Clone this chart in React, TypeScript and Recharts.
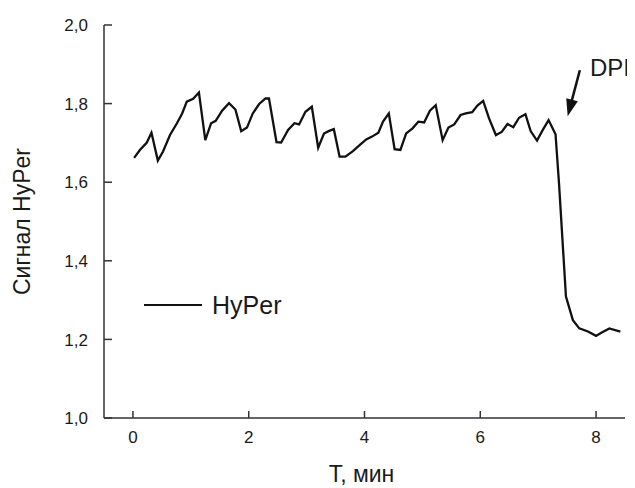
import React from 'react';
import { LineChart, Line, XAxis, YAxis, Legend, ReferenceLine } from 'recharts';

const timeMin = [0.02,0.12,0.24,0.32,0.43,0.52,0.64,0.76,0.85,0.93,1.04,1.14,1.25,1.35,1.43,1.54,1.66,1.77,1.87,1.97,2.07,2.18,2.29,2.35,2.48,2.56,2.68,2.79,2.87,2.98,3.09,3.2,3.3,3.38,3.47,3.57,3.67,3.8,3.93,4.03,4.13,4.24,4.32,4.42,4.52,4.62,4.72,4.83,4.93,5.03,5.13,5.23,5.35,5.45,5.55,5.66,5.75,5.86,5.95,6.05,6.15,6.27,6.37,6.47,6.57,6.67,6.78,6.87,6.98,7.08,7.18,7.3,7.36,7.48,7.6,7.71,7.86,8.0,8.09,8.23,8.42];
const hyper = [1.662,1.682,1.701,1.726,1.655,1.678,1.72,1.75,1.775,1.805,1.812,1.828,1.707,1.75,1.756,1.782,1.801,1.785,1.73,1.739,1.775,1.799,1.813,1.813,1.702,1.701,1.733,1.75,1.747,1.779,1.792,1.688,1.724,1.73,1.735,1.665,1.665,1.679,1.696,1.709,1.716,1.726,1.754,1.775,1.684,1.682,1.724,1.737,1.754,1.752,1.782,1.796,1.707,1.739,1.747,1.771,1.775,1.778,1.795,1.807,1.763,1.72,1.728,1.748,1.74,1.764,1.773,1.73,1.706,1.733,1.758,1.722,1.597,1.309,1.249,1.228,1.22,1.209,1.217,1.228,1.22];
const xTicks = [0, 2, 4, 6, 8];
const yTicks = [1.0, 1.2, 1.4, 1.6, 1.8, 2.0];
const arrowFrom = { x: 7.72, y: 1.885 };
const arrowTo = { x: 7.51, y: 1.768 };
const arrowLabel = 'DPI';
const seriesName = 'HyPer';
const xTitle = 'T, мин';
const yTitle = 'Сигнал HyPer';

const data = timeMin.map((t, i) => ({ t, v: hyper[i] }));

const FONT = '"Liberation Sans", Arial, sans-serif';
const AXIS = '#333';
const TXT = '#1a1a1a';

const YTick = (props: any) => {
  const { x, y, payload } = props;
  return (
    <g>
      <line x1={x} y1={y} x2={x + 8} y2={y} stroke={AXIS} strokeWidth={1.5} />
      <text x={x - 16} y={y} dy="0.36em" textAnchor="end" fontFamily={FONT} fontSize={17} fill={TXT}>
        {Number(payload.value).toFixed(1).replace('.', ',')}
      </text>
    </g>
  );
};

const XTick = (props: any) => {
  const { x, y, payload } = props;
  return (
    <g>
      <line x1={x} y1={y} x2={x} y2={y - 7} stroke={AXIS} strokeWidth={1.5} />
      <text x={x} y={y + 25} textAnchor="middle" fontFamily={FONT} fontSize={17} fill={TXT}>
        {payload.value}
      </text>
    </g>
  );
};

const Arrow = (props: any) => {
  const { x1, y1, x2, y2 } = props;
  const dx = x2 - x1;
  const dy = y2 - y1;
  const len = Math.sqrt(dx * dx + dy * dy);
  const ux = dx / len;
  const uy = dy / len;
  const hl = 17;
  const hw = 6;
  const bx = x2 - ux * hl;
  const by = y2 - uy * hl;
  const px = -uy;
  const py = ux;
  return (
    <g>
      <line x1={x1} y1={y1} x2={bx + ux * 2} y2={by + uy * 2} stroke="#111" strokeWidth={2.5} />
      <polygon
        points={`${x2},${y2} ${bx + px * hw},${by + py * hw} ${bx - px * hw},${by - py * hw}`}
        fill="#111"
      />
    </g>
  );
};

const LegendContent = () => (
  <div style={{ display: 'flex', alignItems: 'center', height: 30 }}>
    <svg width={58} height={4} style={{ display: 'block' }}>
      <line x1={0} y1={2} x2={58} y2={2} stroke="#111" strokeWidth={2} />
    </svg>
    <span style={{ marginLeft: 10, fontFamily: FONT, fontSize: 25, color: TXT, lineHeight: '30px' }}>
      {seriesName}
    </span>
  </div>
);

export default function App() {
  return (
    <div style={{ position: 'relative', width: 627, height: 480 }}>
      <LineChart
        width={627}
        height={480}
        data={data}
        margin={{ top: 17, right: 10, bottom: 0, left: 0 }}
      >
        <XAxis
          dataKey="t"
          type="number"
          domain={[-0.5, 8.5]}
          ticks={xTicks}
          tickSize={0}
          tickMargin={0}
          height={70}
          axisLine={{ stroke: AXIS, strokeWidth: 1.5 }}
          tick={<XTick />}
          tickLine={false}
          label={{
            content: (p: any) => {
              const vb = p.viewBox;
              return (
                <text x={vb.x + vb.width / 2 - 3} y={vb.y + 64} textAnchor="middle" fontFamily={FONT} fontSize={23} fill={TXT}>
                  {xTitle}
                </text>
              );
            },
          }}
        />
        <YAxis
          type="number"
          domain={[1, 2]}
          ticks={yTicks}
          width={96}
          tickSize={0}
          tickMargin={0}
          axisLine={{ stroke: AXIS, strokeWidth: 1.5 }}
          tick={<YTick />}
          tickLine={false}
          label={{
            content: (p: any) => {
              const vb = p.viewBox;
              const cx = 14;
              const cy = vb.y + vb.height / 2;
              return (
                <text x={cx} y={cy} dy="0.36em" textAnchor="middle" transform={`rotate(-90, ${cx}, ${cy})`} fontFamily={FONT} fontSize={23} fill={TXT}>
                  {yTitle}
                </text>
              );
            },
          }}
        />
        <Legend
          layout="horizontal"
          verticalAlign="middle"
          align="center"
          content={<LegendContent />}
          wrapperStyle={{ left: 136, top: 282, width: 200 }}
        />
        <ReferenceLine
          segment={[arrowFrom, arrowTo]}
          ifOverflow="visible"
          shape={<Arrow />}
        />
        <Line
          name={seriesName}
          dataKey="v"
          type="linear"
          stroke="#111"
          strokeWidth={2.3}
          dot={false}
          activeDot={false}
          isAnimationActive={false}
        />
      </LineChart>
      <span
        style={{
          position: 'absolute',
          left: 582,
          top: 46,
          fontFamily: FONT,
          fontSize: 24,
          lineHeight: '28px',
          color: TXT,
          whiteSpace: 'nowrap',
        }}
      >
        {arrowLabel}
      </span>
    </div>
  );
}
